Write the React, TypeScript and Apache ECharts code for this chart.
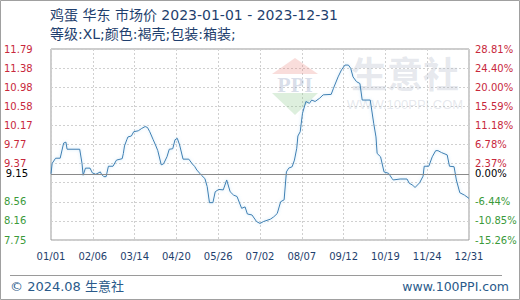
import React, { useEffect, useRef } from "react";
import * as echarts from "echarts";

const titleText = "鸡蛋 华东 市场价 2023-01-01 - 2023-12-31";
const subtitleText = "等级:XL;颜色:褐壳;包装:箱装;";
const footerLeft = "© 2024.08 生意社";
const footerRight = "www.100PPI.com";

const baseValue = 9.15;
const yMin = 7.75;
const yMax = 11.79;
const yStep = 0.404;
const leftTickLabels = ["7.75", "8.16", "8.56", "", "9.37", "9.77", "10.17", "10.58", "10.98", "11.38", "11.79"];
const rightTickLabels = ["-15.26%", "-10.85%", "-6.44%", "", "2.37%", "6.78%", "11.18%", "15.59%", "20.00%", "24.40%", "28.81%"];

// day index from 2023-01-01
const days = [
  0, 1, 4, 8, 11, 13, 14, 25, 27, 28, 30, 34, 36, 39, 43, 44, 46, 48, 50, 54,
  57, 62, 63, 64, 66, 67, 70, 72, 76, 79, 82, 84, 86, 89, 91, 93, 96, 98, 101, 103,
  106, 108, 110, 112, 115, 120, 123, 125, 127, 131, 134, 136, 138, 141, 143, 146, 150, 153, 156, 159,
  162, 166, 169, 171, 175, 179, 182, 185, 191, 194, 197, 200, 203, 205, 207, 210, 212, 214, 215, 217,
  219, 222, 225, 227, 230, 234, 237, 244, 246, 250, 253, 256, 259, 261, 263, 266, 269, 271, 278, 281,
  283, 284, 287, 290, 294, 297, 298, 304, 310, 312, 315, 317, 321, 324, 325, 329, 332, 335, 337, 340,
  345, 347, 351, 353, 356, 360, 364,
];
const prices = [
  9.15, 9.37, 9.48, 9.48, 9.8, 9.82, 9.67, 9.67, 9.37, 9.12, 9.27, 9.27, 9.17, 9.14, 9.19, 9.14, 9.09, 9.09, 9.31, 9.31,
  9.44, 9.47, 9.58, 9.74, 9.87, 9.93, 9.95, 10.04, 10.06, 10.11, 10.15, 10.13, 10.04, 9.87, 9.76, 9.64, 9.34, 9.36, 9.51, 9.67,
  9.68, 9.87, 9.9, 9.76, 9.46, 9.46, 9.36, 9.31, 9.23, 9.12, 9.05, 8.88, 8.54, 8.54, 8.77, 8.82, 8.81, 9.02, 8.77, 8.7,
  8.67, 8.42, 8.45, 8.3, 8.28, 8.14, 8.1, 8.14, 8.19, 8.24, 8.31, 8.56, 8.6, 9.19, 9.27, 9.3, 9.44, 9.69, 9.95, 10.04,
  10.43, 10.68, 10.64, 10.71, 10.68, 10.75, 10.82, 10.83, 10.96, 11.2, 11.35, 11.45, 11.45, 11.38, 11.2, 11.1, 11.06, 10.71, 10.71, 10.22,
  9.93, 9.58, 9.51, 9.19, 9.16, 9.05, 9.02, 9.04, 9.04, 8.95, 8.91, 8.86, 8.96, 9.1, 9.31, 9.31, 9.51, 9.64, 9.64, 9.6,
  9.55, 9.31, 9.3, 9.02, 8.75, 8.7, 8.63,
];

const RED = "#c8283c";
const GREEN = "#3a9a3a";
const NAVY = "#1f3f6e";
const LABEL_FONT = "DejaVu Sans";
const LABEL_SIZE = 10;
const TEXT_FONT = "'DejaVu Sans', 'Noto Sans CJK SC', sans-serif";

function dayLabel(v: number): string {
  const d = new Date(2023, 0, 1 + Math.floor(v + 1e-6));
  const mm = String(d.getMonth() + 1).padStart(2, "0");
  const dd = String(d.getDate()).padStart(2, "0");
  return `${mm}/${dd}`;
}

export default function App() {
  const ref = useRef<HTMLDivElement>(null);
  useEffect(() => {
    if (!ref.current) return;
    const chart = echarts.init(ref.current, null, { renderer: "svg" });
    const idx = (v: number) => Math.round((v - yMin) / yStep);
    const colorFor = (v: any) => (Number(v) > baseValue ? RED : GREEN);
    chart.setOption({
      animation: false,
      backgroundColor: "#ffffff",
      grid: { left: 51, right: 51, top: 49, bottom: 60, show: true, borderColor: "#9a9a9a", borderWidth: 1 },
      xAxis: {
        type: "value",
        min: 0,
        max: 364,
        interval: 36.4,
        axisLine: { show: false },
        axisTick: { show: false },
        axisLabel: { formatter: dayLabel, color: NAVY, fontSize: LABEL_SIZE, fontFamily: LABEL_FONT, margin: 11 },
        splitLine: { show: true, lineStyle: { color: "#d0d0d0", type: [2, 2] } },
      },
      yAxis: [
        {
          type: "value",
          min: yMin,
          max: yMax,
          interval: yStep,
          axisLine: { show: false },
          axisTick: { show: false },
          axisLabel: {
            formatter: (v: number) => leftTickLabels[idx(v)] ?? "",
            color: colorFor,
            fontSize: LABEL_SIZE,
            fontFamily: LABEL_FONT,
            align: "left",
            margin: 47,
          },
          splitLine: { show: true, lineStyle: { color: "#d0d0d0", type: [2, 2] } },
        },
        {
          type: "value",
          min: yMin,
          max: yMax,
          interval: yStep,
          position: "right",
          axisLine: { show: false },
          axisTick: { show: false },
          axisLabel: {
            formatter: (v: number) => rightTickLabels[idx(v)] ?? "",
            color: colorFor,
            fontSize: LABEL_SIZE,
            fontFamily: LABEL_FONT,
            align: "left",
            margin: 6,
          },
          splitLine: { show: false },
        },
      ],
      graphic: [
        { type: "rect", shape: { x: 0.5, y: 0.5, width: 519, height: 299 }, style: { fill: "none", stroke: "#a0a0a0", lineWidth: 1 }, z: 0 },
        { type: "text", x: 50, y: 15, style: { text: titleText, fill: NAVY, font: `14px ${TEXT_FONT}`, textVerticalAlign: "middle" } },
        { type: "text", x: 50, y: 34, style: { text: subtitleText, fill: NAVY, font: `14px ${TEXT_FONT}`, textVerticalAlign: "middle" } },
        { type: "line", shape: { x1: 10, y1: 275.5, x2: 502, y2: 275.5 }, style: { stroke: "#9a9a9a", lineWidth: 1 } },
        { type: "text", x: 10, y: 286, style: { text: footerLeft, fill: "#2a5a8a", font: `13px ${TEXT_FONT}`, textVerticalAlign: "middle" } },
        { type: "text", x: 509, y: 286, style: { text: footerRight, fill: "#2a5a8a", font: "12.5px 'DejaVu Sans', sans-serif", textAlign: "right", textVerticalAlign: "middle" } },
        // watermark
        { type: "polygon", z: 1, shape: { points: [[272, 74], [295, 58], [318, 74]] }, style: { fill: "rgba(230,120,110,0.25)" } },
        { type: "polygon", z: 1, shape: { points: [[272, 93], [318, 93], [295, 115]] }, style: { fill: "rgba(120,190,120,0.25)" } },
        { type: "text", z: 1, x: 295, y: 84, style: { text: "PPI", fill: "rgba(120,140,180,0.3)", font: "bold 22px 'Liberation Serif', serif", textAlign: "center", textVerticalAlign: "middle" } },
        { type: "text", z: 1, x: 405, y: 72, style: { text: "生意社", fill: "rgba(170,180,195,0.3)", font: "bold 36px 'Noto Sans CJK SC', sans-serif", textAlign: "center", textVerticalAlign: "middle" } },
        { type: "text", z: 1, x: 405, y: 104, style: { text: "WWW.100PPI.COM", fill: "rgba(170,180,195,0.3)", font: "13px 'Liberation Sans', sans-serif", textAlign: "center", textVerticalAlign: "middle" } },
      ],
      series: [
        {
          type: "line",
          data: days.map((d, i) => [d, prices[i]]),
          showSymbol: false,
          symbol: "none",
          z: 3,
          lineStyle: { color: "#3f7fb2", width: 1, shadowBlur: 3, shadowColor: "rgba(120,190,235,0.5)" },
          markLine: {
            silent: true,
            symbol: "none",
            lineStyle: { color: "#8a8a8a", type: "solid", width: 1 },
            data: [
              { yAxis: baseValue, label: { show: true, position: "start", distance: 23, formatter: "9.15", color: "#000", fontSize: LABEL_SIZE, fontFamily: LABEL_FONT } },
              { yAxis: baseValue, label: { show: true, position: "end", distance: 6, formatter: "0.00%", color: "#000", fontSize: LABEL_SIZE, fontFamily: LABEL_FONT } },
            ],
          },
        },
      ],
    });
    return () => chart.dispose();
  }, []);
  return <div ref={ref} style={{ width: 520, height: 300, position: "absolute", left: 0, top: 0 }} />;
}
